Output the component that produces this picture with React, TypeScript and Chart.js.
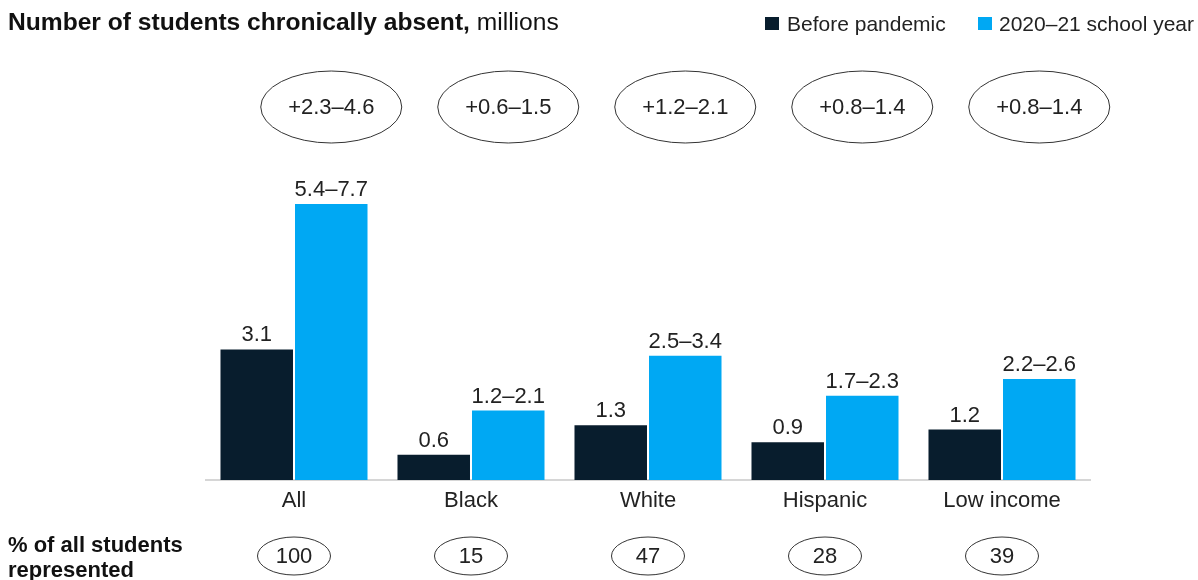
import React, { useEffect, useRef } from "react";
import { Chart, registerables } from "chart.js";

Chart.register(...registerables);

const categories = ["All", "Black", "White", "Hispanic", "Low income"];
const beforeValues = [3.1, 0.6, 1.3, 0.9, 1.2];
const afterLow = [5.4, 1.2, 2.5, 1.7, 2.2];
const afterHigh = [7.7, 2.1, 3.4, 2.3, 2.6];
const afterMid = [6.55, 1.65, 2.95, 2.0, 2.4];
const changeLabels = ["+2.3\u20134.6", "+0.6\u20131.5", "+1.2\u20132.1", "+0.8\u20131.4", "+0.8\u20131.4"];
const pctStudents = ["100", "15", "47", "28", "39"];

const DARK = "#081d2d";
const BLUE = "#00a8f3";
const FONT = "'Liberation Sans', Arial, sans-serif";

export default function App() {
  const ref = useRef<HTMLCanvasElement | null>(null);

  useEffect(() => {
    document.body.style.margin = "0";
    const canvas = ref.current;
    if (!canvas) return;

    const overlay = {
      id: "overlay",
      afterDraw(chart: any) {
        const ctx = chart.ctx as CanvasRenderingContext2D;
        const x = chart.scales.x;
        const m0 = chart.getDatasetMeta(0);
        const m1 = chart.getDatasetMeta(1);
        ctx.save();
        // title
        ctx.fillStyle = "#111";
        ctx.textBaseline = "alphabetic";
        ctx.textAlign = "left";
        ctx.font = `bold 24.6px ${FONT}`;
        const t1 = "Number of students chronically absent,";
        ctx.fillText(t1, 8, 30);
        const w1 = ctx.measureText(t1).width;
        ctx.font = `24.6px ${FONT}`;
        ctx.fillText(" millions", 8 + w1, 30);

        // legend
        ctx.font = `21px ${FONT}`;
        ctx.fillStyle = DARK;
        ctx.fillRect(765, 17, 14, 13);
        ctx.fillStyle = "#222";
        ctx.fillText("Before pandemic", 787, 31);
        ctx.fillStyle = BLUE;
        ctx.fillRect(978, 17, 14, 13);
        ctx.fillStyle = "#222";
        ctx.fillText("2020\u201321 school year", 999, 31);

        // top ellipses (over the 2020-21 bars)
        ctx.textAlign = "center";
        ctx.textBaseline = "middle";
        ctx.strokeStyle = "#333";
        ctx.lineWidth = 1;
        ctx.font = `22px ${FONT}`;
        categories.forEach((_, i) => {
          const cx = m1.data[i].x;
          ctx.beginPath();
          ctx.ellipse(cx, 107, 70.5, 36, 0, 0, Math.PI * 2);
          ctx.stroke();
          ctx.fillStyle = "#222";
          ctx.fillText(changeLabels[i], cx, 108);
        });

        // value labels
        ctx.textBaseline = "alphabetic";
        categories.forEach((_, i) => {
          const b0 = m0.data[i];
          const b1 = m1.data[i];
          ctx.fillText(beforeValues[i].toFixed(1), b0.x, b0.y - 8);
          ctx.fillText(`${afterLow[i].toFixed(1)}\u2013${afterHigh[i].toFixed(1)}`, b1.x, b1.y - 8);
        });

        // bottom row
        ctx.textAlign = "left";
        ctx.font = `bold 22px ${FONT}`;
        ctx.fillStyle = "#111";
        ctx.fillText("% of all students", 8, 552);
        ctx.fillText("represented", 8, 577);
        ctx.textAlign = "center";
        ctx.textBaseline = "middle";
        ctx.font = `22px ${FONT}`;
        categories.forEach((_, i) => {
          const cx = x.getPixelForValue(i);
          ctx.beginPath();
          ctx.ellipse(cx, 556, 36.5, 19, 0, 0, Math.PI * 2);
          ctx.stroke();
          ctx.fillStyle = "#222";
          ctx.fillText(pctStudents[i], cx, 557);
        });
        ctx.restore();
      },
    };

    const chart = new Chart(canvas, {
      type: "bar",
      data: {
        labels: categories,
        datasets: [
          {
            label: "Before pandemic",
            data: beforeValues,
            backgroundColor: DARK,
            categoryPercentage: 0.842,
            barPercentage: 0.973,
          },
          {
            label: "2020\u201321 school year",
            data: afterMid,
            backgroundColor: BLUE,
            categoryPercentage: 0.842,
            barPercentage: 0.973,
          },
        ],
      },
      options: {
        animation: false,
        responsive: false,
        maintainAspectRatio: false,
        layout: { padding: { left: 205.5, right: 107.5, top: 185, bottom: 57.5 } },
        plugins: { legend: { display: false }, tooltip: { enabled: false } },
        scales: {
          y: { display: false, min: 0, max: 7 },
          x: {
            grid: { display: false, drawTicks: false },
            border: { display: true, color: "#d6d6d6", width: 2 },
            ticks: { color: "#222", font: { family: FONT, size: 22 }, padding: 8 },
          },
        },
      },
      plugins: [overlay],
    });
    return () => chart.destroy();
  }, []);

  return (
    <div style={{ position: "fixed", left: 0, top: 0, width: 1198, height: 580, background: "#fff" }}>
      <canvas ref={ref} width={1198} height={580} style={{ width: 1198, height: 580 }} />
    </div>
  );
}
